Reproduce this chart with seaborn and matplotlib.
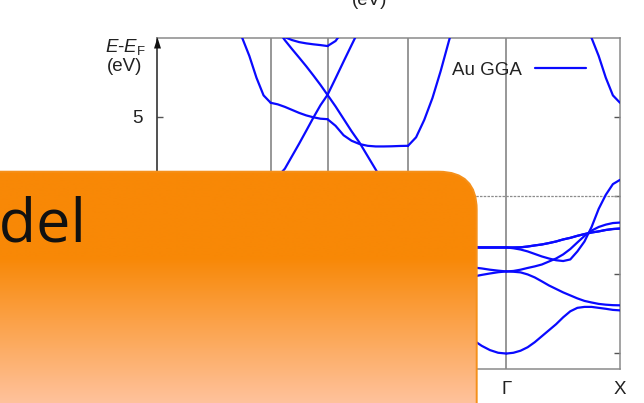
import numpy as np
import pandas as pd
import matplotlib
matplotlib.use("Agg")
import matplotlib.pyplot as plt
from matplotlib.patches import FancyBboxPatch, Polygon
from matplotlib.lines import Line2D
import seaborn as sns

sns.set_style("white")
plt.rcParams["font.family"] = ["Liberation Sans", "DejaVu Sans"]
plt.rcParams["mathtext.fontset"] = "custom"
plt.rcParams["mathtext.it"] = "Liberation Sans:italic"
plt.rcParams["mathtext.rm"] = "Liberation Sans"

# High-symmetry path Γ–X–W–L–Γ–X of the fcc Brillouin zone (units of 2π/a)
kpoint_labels = ["Γ", "X", "W", "L", "Γ", "X"]
segment_lengths = [1.0, 0.5, np.sqrt(2) / 2, np.sqrt(3) / 2, 1.0]

# Band energies E - E_F (eV), sampled uniformly along each segment
bands_gamma_x = [
    [-10.02, -9.97, -9.84, -9.62, -9.30, -8.92, -8.54, -8.16, -7.72, -7.34, -7.12, -7.06, -7.06, -7.12, -7.18, -7.25, -7.28],
    [-4.81, -4.83, -4.87, -5.00, -5.19, -5.44, -5.70, -5.92, -6.14, -6.33, -6.52, -6.68, -6.78, -6.87, -6.92, -6.95, -6.96],
    [-4.81, -4.78, -4.70, -4.59, -4.49, -4.37, -4.18, -3.99, -3.73, -3.39, -2.97, -2.56, -2.22, -1.99, -1.84, -1.74, -1.71],
    [-3.29, -3.34, -3.42, -3.54, -3.70, -3.86, -3.99, -4.10, -4.15, -4.05, -3.54, -2.91, -1.99, -0.84, 0.05, 0.73, 1.00],
    [-3.29, -3.29, -3.28, -3.23, -3.16, -3.10, -3.01, -2.91, -2.78, -2.68, -2.55, -2.44, -2.34, -2.27, -2.18, -2.12, -2.09],
    [-3.29, -3.29, -3.28, -3.23, -3.16, -3.10, -3.01, -2.91, -2.78, -2.68, -2.55, -2.44, -2.34, -2.27, -2.18, -2.12, -2.09],
    [16.45, 16.4, 16.3, 16.1, 15.8, 15.4, 14.9, 14.3, 13.6, 12.8, 12.0, 11.1, 10.0, 8.86, 7.48, 6.36, 5.89],
]
bands_x_w = [
    [-7.28, -7.25, -7.15, -7.00, -6.85, -6.70, -6.55, -6.42, -6.35],
    [-6.96, -6.90, -6.75, -6.50, -6.25, -6.00, -5.80, -5.60, -5.50],
    [-1.71, -1.75, -1.85, -2.00, -2.15, -2.30, -2.45, -2.55, -2.60],
    [1.00, 1.20, 1.71, 2.50, 3.29, 4.11, 4.94, 5.73, 6.39],
    [-2.09, -2.20, -2.45, -2.80, -3.15, -3.50, -3.80, -4.00, -4.10],
    [-2.09, -2.12, -2.20, -2.30, -2.45, -2.60, -2.75, -2.90, -3.00],
    [5.89, 5.79, 5.63, 5.44, 5.25, 5.09, 4.97, 4.88, 4.85],
    [10.95, 10.50, 9.86, 9.30, 8.76, 8.21, 7.63, 7.03, 6.39],
    [11.00, 10.50, 10.05, 9.87, 9.74, 9.66, 9.60, 9.55, 9.49],
]
bands_w_l = [
    [-6.35, -6.40, -6.50, -6.60, -6.70, -6.80, -6.90, -6.95, -7.00, -7.00, -7.00],
    [-5.50, -5.55, -5.60, -5.65, -5.70, -5.75, -5.80, -5.85, -5.88, -5.90, -5.90],
    [-2.60, -2.55, -2.50, -2.47, -2.45, -2.43, -2.42, -2.41, -2.40, -2.40, -2.40],
    [6.39, 7.44, 8.51, 9.56, 10.6, 11.6, 12.4, 13.0, 13.4, 13.6, 13.7],
    [-4.10, -4.30, -4.60, -4.90, -5.20, -5.45, -5.65, -5.80, -5.87, -5.90, -5.90],
    [-3.00, -2.95, -2.85, -2.75, -2.65, -2.55, -2.48, -2.43, -2.40, -2.40, -2.40],
    [4.85, 4.43, 3.83, 3.48, 3.27, 3.16, 3.12, 3.12, 3.13, 3.15, 3.16],
    [6.39, 5.66, 4.87, 4.08, 3.35, 2.50, 1.65, 0.76, 0.00, -0.57, -0.82],
    [9.49, 9.81, 10.5, 11.0, 11.4, 11.8, 12.1, 12.3, 12.4, 12.5, 12.5],
]
bands_l_gamma = [
    [-7.00, -7.05, -7.20, -7.45, -7.75, -8.10, -8.45, -8.82, -9.18, -9.53, -9.80, -9.97, -10.02],
    [-5.90, -5.85, -5.75, -5.60, -5.45, -5.30, -5.20, -5.15, -5.13, -5.03, -4.94, -4.86, -4.81],
    [-5.90, -5.80, -5.60, -5.30, -5.00, -4.75, -4.60, -4.55, -4.56, -4.62, -4.70, -4.76, -4.81],
    [-2.40, -2.45, -2.60, -2.80, -3.00, -3.15, -3.24, -3.28, -3.29, -3.29, -3.29, -3.29, -3.29],
    [-2.40, -2.45, -2.60, -2.80, -3.00, -3.15, -3.24, -3.28, -3.29, -3.29, -3.29, -3.29, -3.29],
    [-0.82, -0.90, -1.15, -1.50, -1.95, -2.40, -2.80, -3.10, -3.27, -3.29, -3.29, -3.29, -3.29],
    [3.15, 3.70, 4.81, 6.20, 7.91, 9.81, 11.6, 13.4, 14.6, 15.5, 16.0, 16.3, 16.45],
]
segment_bands = [bands_gamma_x, bands_x_w, bands_w_l, bands_l_gamma, bands_gamma_x]

energy_ticks = [-10, -5, 0, 5]
legend_label = "Au GGA"
band_color = "#0a0aff"

# long-form table: one row per (line, k, E)
nodes = np.concatenate([[0.0], np.cumsum(segment_lengths)])
rows = []
line_id = 0
for start, length, bands in zip(nodes[:-1], segment_lengths, segment_bands):
    for energies in bands:
        frac = np.linspace(0.0, 1.0, len(energies))
        for f, e in zip(frac, energies):
            rows.append((line_id, start + f * length, e))
        line_id += 1
df = pd.DataFrame(rows, columns=["line", "k", "E"])

W, H = 644, 403
fig = plt.figure(figsize=(W / 100, H / 100), dpi=100)
ax = fig.add_axes([157 / W, 34 / H, 463 / W, 331 / H])

sns.lineplot(data=df, x="k", y="E", units="line", estimator=None, sort=False,
             color=band_color, linewidth=1.6, legend=False, ax=ax, zorder=3)

ax.set_xlim(nodes[0], nodes[-1])
ax.set_ylim(-11, 10)
for xk in nodes[1:-1]:
    ax.axvline(xk, color="#7a7a7a", lw=1.1, zorder=1)
ax.axhline(0, color="#8c8c8c", lw=0.9, ls=(0, (2, 1)), zorder=1)

ax.set_xticks(nodes)
ax.set_xticklabels(kpoint_labels)
ax.set_yticks(energy_ticks)
ax.set_yticklabels([str(t) for t in energy_ticks])
ax.tick_params(axis="x", length=0, pad=9, labelsize=13.5, labelcolor="#222222")
ax.tick_params(axis="y", direction="in", length=4, width=1, left=True, right=True,
               pad=10, labelsize=13.5, color="#555555", labelcolor="#222222")
ax.set_xlabel("")
ax.set_ylabel("")
for name, sp in ax.spines.items():
    sp.set_linewidth(1.1)
    sp.set_color("#222222" if name == "left" else "#8a8a8a")

handle = Line2D([], [], color=band_color, lw=1.6)
ax.legend([handle], [legend_label], loc="center right", bbox_to_anchor=(0.9266, 0.9033),
          frameon=False, markerfirst=False, handlelength=2.72, handletextpad=0.7,
          borderpad=0, borderaxespad=0, fontsize=13.5, labelcolor="#222222")

# overlay in pixel coordinates: axis arrow, labels, and the orange title card
ov = fig.add_axes([0, 0, 1, 1], zorder=10)
ov.set_xlim(0, W)
ov.set_ylim(H, 0)
ov.axis("off")
ov.patch.set_alpha(0)

ov.add_patch(Polygon([(157.5, 37.5), (154.0, 48.5), (161.0, 48.5)], closed=True,
                     facecolor="#111111", edgecolor="none"))
ov.text(125, 51.7, r"$E$-$E_{\rm F}$", ha="center", va="baseline", fontsize=13.5, color="#222222")
ov.text(125, 71, "(eV)", ha="center", va="baseline", fontsize=13.5, color="#222222")
ov.text(370, 5, "(eV)", ha="center", va="baseline", fontsize=13.5, color="#222222")

box_left, box_top, box_right, box_bottom = -60, 171.7, 476.7, 460
card = FancyBboxPatch((box_left, box_top), box_right - box_left, box_bottom - box_top,
                      boxstyle="round,pad=0,rounding_size=38",
                      facecolor="none", edgecolor="#f5901a", lw=1.4, zorder=3)
ov.add_patch(card)

ys = np.linspace(box_top, H, 300)
top_rgb = np.array([248, 136, 6]) / 255
bot_rgb = np.array([255, 194, 156]) / 255
t = np.clip((ys - 258) / (H - 258), 0, 1)[:, None]
grad = (top_rgb + t * (bot_rgb - top_rgb))[:, None, :]
img = ov.imshow(grad, extent=(box_left, box_right, H, box_top), origin="upper",
                aspect="auto", interpolation="bilinear", zorder=2)
img.set_clip_path(card)

ov.text(86, 241.7, "Model", ha="right", va="baseline", fontsize=44,
        family=["Open Sans", "DejaVu Sans"], color="#111111", zorder=4)

ov.set_xlim(0, W)
ov.set_ylim(H, 0)

fig.savefig("out.png", dpi=100)
